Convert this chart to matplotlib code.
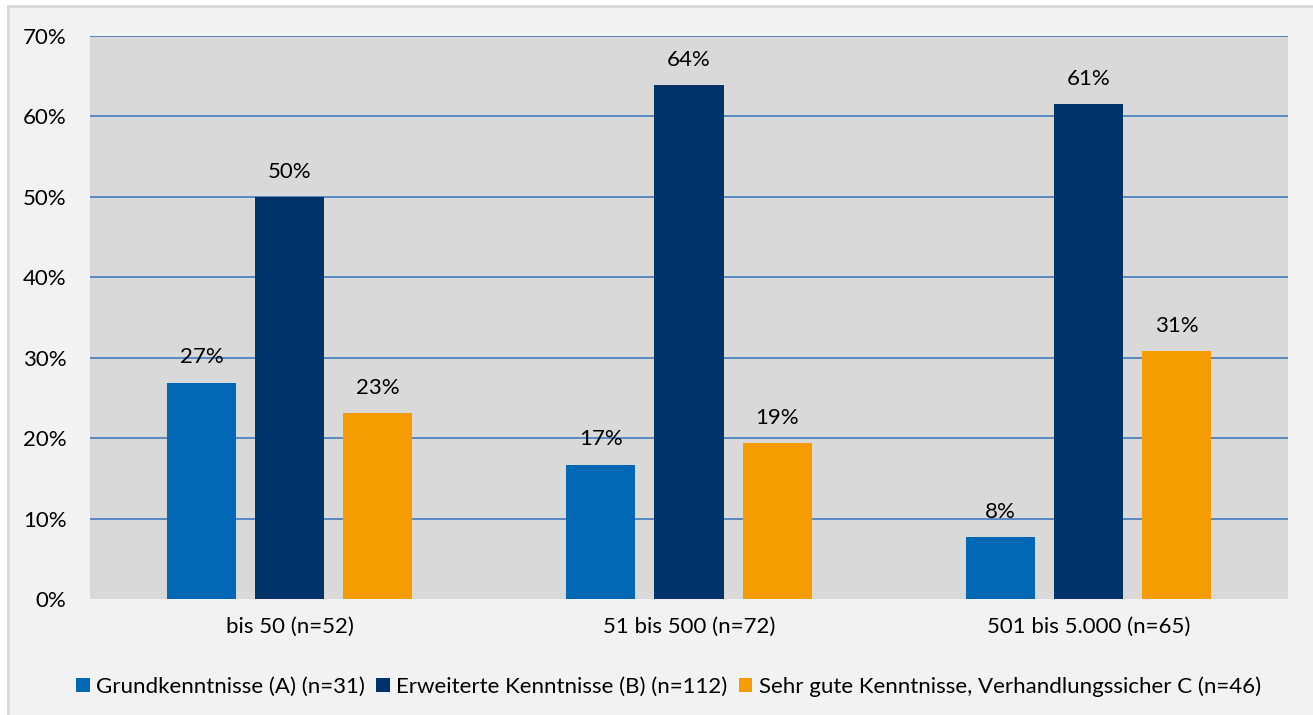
import numpy as np
import matplotlib.pyplot as plt
from matplotlib.patches import Rectangle

plt.rcParams['font.family'] = ['Lato', 'DejaVu Sans']

# data
groups = ["bis 50 (n=52)", "51 bis 500 (n=72)", "501 bis 5.000 (n=65)"]
series_names = ["Grundkenntnisse (A) (n=31)", "Erweiterte Kenntnisse (B) (n=112)",
                "Sehr gute Kenntnisse, Verhandlungssicher C (n=46)"]
grund = [26.9, 16.7, 7.7]
erweitert = [50.0, 63.9, 61.5]
sehr_gut = [23.1, 19.4, 30.8]
labels_grund = ["27%", "17%", "8%"]
labels_erw = ["50%", "64%", "61%"]
labels_sehr = ["23%", "19%", "31%"]
yticks = [0, 10, 20, 30, 40, 50, 60, 70]

colors = ["#0068b4", "#00336a", "#f59c00"]
fs = 16

fig = plt.figure(figsize=(13.13, 7.15), dpi=100, facecolor="white")
fig.patches.append(Rectangle((8/1313, -0.01), 1.0, 1 - 6/715 + 0.01, transform=fig.transFigure,
                             facecolor="#f2f2f2", edgecolor="#d9d9d9", linewidth=2, zorder=-1))
ax = fig.add_axes([90/1313, 1 - 599/715, 1198/1313, 563/715])
ax.set_facecolor("#d9d9d9")

x = np.arange(len(groups))
w = 0.173
off = 0.221
all_vals = [grund, erweitert, sehr_gut]
all_labels = [labels_grund, labels_erw, labels_sehr]
for i, (vals, labs) in enumerate(zip(all_vals, all_labels)):
    pos = x + (i - 1) * off
    ax.bar(pos, vals, w, color=colors[i], label=series_names[i], zorder=3)
    for p, v, t in zip(pos, vals, labs):
        ax.text(p, v + 1.9, t, ha="center", va="bottom", fontsize=fs, zorder=4)

ax.set_xlim(-0.5, 2.5)
ax.set_ylim(0, 70)
ax.set_yticks(yticks)
ax.set_yticklabels([f"{t}%" for t in yticks], fontsize=fs)
ax.set_xticks(x)
ax.set_xticklabels(groups, fontsize=fs)
ax.tick_params(length=0)
ax.tick_params(axis="y", pad=17)
ax.tick_params(axis="x", pad=13)
ax.grid(axis="y", color="#4f81bd", linewidth=1.3, zorder=1)
ax.yaxis.get_gridlines()[0].set_visible(False)
for s in ax.spines.values():
    s.set_visible(False)

ax.legend(loc="center", bbox_to_anchor=(0.483, -0.155), ncol=3, frameon=False, fontsize=fs,
          handlelength=0.6, handleheight=0.6, handletextpad=0.3, columnspacing=0.5)

plt.savefig("out.png", dpi=100, facecolor=fig.get_facecolor())
